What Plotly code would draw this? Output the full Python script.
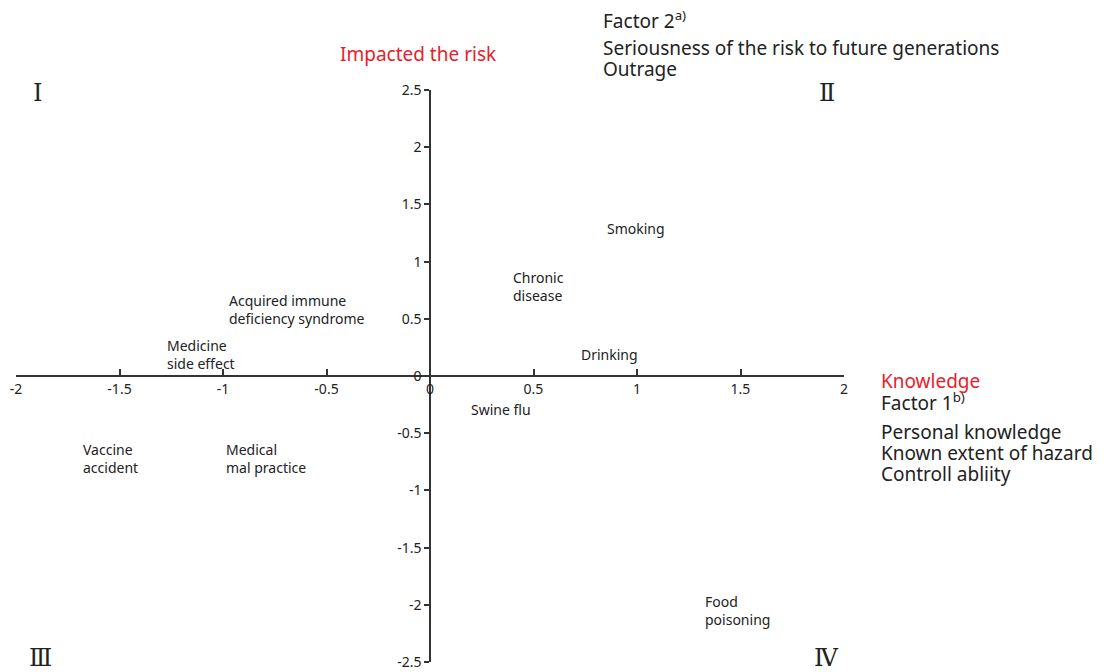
import plotly.graph_objects as go

# Data: risk labels and their factor scores
labels = ["Smoking", "Chronic<br>disease", "Acquired immune<br>deficiency syndrome",
          "Medicine<br>side effect", "Drinking", "Swine flu", "Vaccine<br>accident",
          "Medical<br>mal practice", "Food<br>poisoning"]
factor1 = [0.845, 0.39, -0.98, -1.28, 0.72, 0.19, -1.686, -0.995, 1.32]
factor2 = [1.29, 0.78, 0.585, 0.19, 0.19, -0.29, -0.72, -0.72, -2.05]

x_ticks = [-2, -1.5, -1, -0.5, 0, 0.5, 1, 1.5, 2]
x_ticklabels = ["-2", "-1.5", "-1", "-0.5", "0", "0.5", "1", "1.5", "2"]
y_ticks = [-2.5, -2, -1.5, -1, -0.5, 0, 0.5, 1, 1.5, 2, 2.5]
y_ticklabels = ["-2.5", "-2", "-1.5", "-1", "-0.5", "0", "0.5", "1", "1.5", "2", "2.5"]

FONT = "Noto Sans, Open Sans, sans-serif"
SERIF = "DejaVu Serif, Liberation Serif, serif"

fig = go.Figure()
fig.add_trace(go.Scatter(x=factor1, y=factor2, mode="markers",
                         marker=dict(opacity=0, size=1), hoverinfo="skip",
                         showlegend=False))

annotations = []
for lab, xv, yv in zip(labels, factor1, factor2):
    annotations.append(dict(x=xv, y=yv, xref="x", yref="y", text=lab,
                            showarrow=False, xanchor="left", yanchor="middle",
                            align="left", font=dict(size=14, color="#222", family=FONT)))

def P(px, py):
    return (px - 16) / 828, (662 - py) / 572

def add_text(px, py, text, size=19, color="#222", family=FONT, xanchor="left"):
    xp, yp = P(px, py)
    annotations.append(dict(x=xp, y=yp, xref="paper", yref="paper", text=text,
                            showarrow=False, xanchor=xanchor, yanchor="middle",
                            align="left", font=dict(size=size, color=color, family=family)))

add_text(418, 54, "Impacted the risk", color="#e8202a", xanchor="center")
add_text(601, 20, "Factor 2<sup>a)</sup>")
add_text(601, 48, "Seriousness of the risk to future generations")
add_text(601, 69, "Outrage")
add_text(879, 381, "Knowledge", color="#e8202a")
add_text(879, 402, "Factor 1<sup>b)</sup>")
add_text(879, 432, "Personal knowledge")
add_text(879, 453, "Known extent of hazard")
add_text(879, 474, "Controll abliity")
add_text(37, 93, "Ⅰ", size=24, family=SERIF, xanchor="center")
add_text(827, 93, "Ⅱ", size=24, family=SERIF, xanchor="center")
add_text(40, 658, "Ⅲ", size=24, family=SERIF, xanchor="center")
add_text(826, 658, "Ⅳ", size=24, family=SERIF, xanchor="center")

fig.update_layout(
    width=1099, height=664,
    margin=dict(l=8, r=263, t=82, b=10, autoexpand=False),
    plot_bgcolor="white", paper_bgcolor="white",
    showlegend=False,
    annotations=annotations,
    xaxis=dict(range=[-2, 2], anchor="free", position=0.5, automargin=False,
               tickmode="array", tickvals=x_ticks, ticktext=x_ticklabels,
               ticks="inside", ticklen=6, tickwidth=1.5, tickcolor="#333",
               showline=True, linecolor="#333", linewidth=1.5,
               showgrid=False, zeroline=False,
               tickfont=dict(size=14, color="#222", family=FONT)),
    yaxis=dict(range=[-2.5, 2.5], anchor="free", position=0.5, automargin=False,
               tickmode="array", tickvals=y_ticks, ticktext=y_ticklabels,
               ticks="outside", ticklen=5, tickwidth=1.5, tickcolor="#333",
               showline=True, linecolor="#333", linewidth=1.5,
               showgrid=False, zeroline=False,
               tickfont=dict(size=14, color="#222", family=FONT)),
)

fig.write_html("out.html")
